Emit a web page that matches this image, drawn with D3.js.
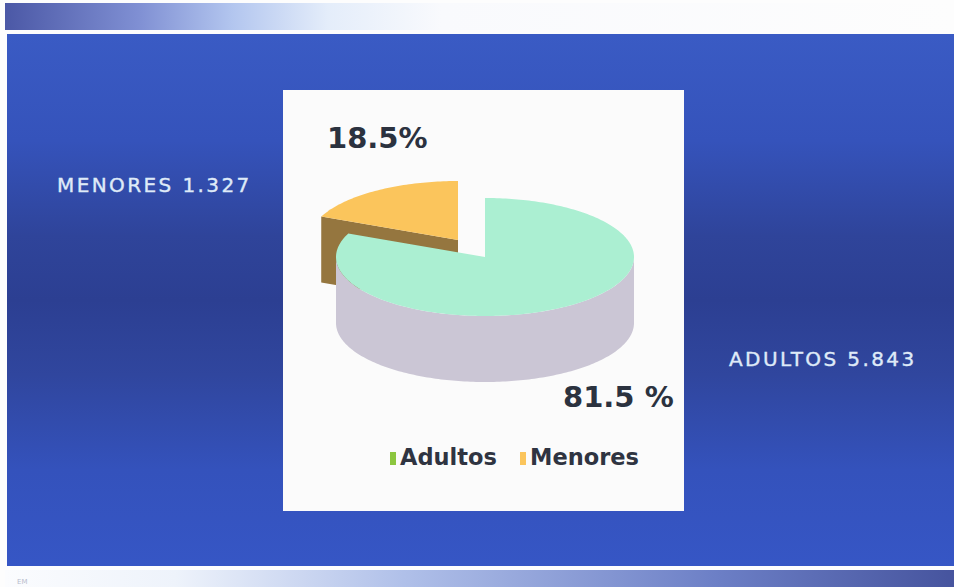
<!DOCTYPE html>
<html>
<head>
<meta charset="utf-8">
<script src="https://cdn.jsdelivr.net/npm/d3@7"></script>
<style>
  body { margin: 0; background: #fdfdfd; }
  svg { display: block; }
</style>
</head>
<body>
<div id="chart"></div>
<script>

// data
var categories = ["Adultos", "Menores"];
var values = [5843, 1327];
var pctLabels = ["81.5 %", "18.5%"];
var sideLabels = ["ADULTOS 5.843", "MENORES 1.327"];

var topColors = ["#abefd2", "#fbc55c"];
var wallColors = ["#cbc6d5", "#95763f"];
var legendColors = ["#8cc63f", "#fbc55c"];

var W = 954, H = 587;

var svg = d3.select("#chart").append("svg")
  .attr("width", W)
  .attr("height", H);

var defs = svg.append("defs");

// top bar gradient
var g1 = defs.append("linearGradient").attr("id", "topbar");
g1.append("stop").attr("offset", "0%").attr("stop-color", "#4b58a6");
g1.append("stop").attr("offset", "14%").attr("stop-color", "#7f8fd3");
g1.append("stop").attr("offset", "24%").attr("stop-color", "#b3c6ef");
g1.append("stop").attr("offset", "34%").attr("stop-color", "#e4edfa");
g1.append("stop").attr("offset", "46%").attr("stop-color", "#f9fafd");
g1.append("stop").attr("offset", "100%").attr("stop-color", "#fdfdfd");

// bottom bar gradient
var g2 = defs.append("linearGradient").attr("id", "botbar");
g2.append("stop").attr("offset", "0%").attr("stop-color", "#fbfcfe");
g2.append("stop").attr("offset", "18%").attr("stop-color", "#eef3fb");
g2.append("stop").attr("offset", "42%").attr("stop-color", "#b0c0e9");
g2.append("stop").attr("offset", "75%").attr("stop-color", "#6c7fc6");
g2.append("stop").attr("offset", "100%").attr("stop-color", "#46549e");

// panel gradient
var g3 = defs.append("linearGradient").attr("id", "panel")
  .attr("x1", 0).attr("y1", 0).attr("x2", 0).attr("y2", 1);
g3.append("stop").attr("offset", "0%").attr("stop-color", "#3a5bc4");
g3.append("stop").attr("offset", "20%").attr("stop-color", "#3553bb");
g3.append("stop").attr("offset", "38%").attr("stop-color", "#2f449a");
g3.append("stop").attr("offset", "50%").attr("stop-color", "#2c3f92");
g3.append("stop").attr("offset", "64%").attr("stop-color", "#30469e");
g3.append("stop").attr("offset", "82%").attr("stop-color", "#3452bc");
g3.append("stop").attr("offset", "100%").attr("stop-color", "#3656c5");

svg.append("rect").attr("x", 5).attr("y", 3).attr("width", W - 5).attr("height", 27)
  .attr("fill", "url(#topbar)");
svg.append("rect").attr("x", 7).attr("y", 34).attr("width", W - 7).attr("height", 532)
  .attr("fill", "url(#panel)");
svg.append("rect").attr("x", 5).attr("y", 570).attr("width", W - 5).attr("height", 17)
  .attr("fill", "url(#botbar)");
svg.append("text").attr("x", 17).attr("y", 584)
  .attr("font-family", "DejaVu Sans").attr("font-size", 7).attr("fill", "#b8bccc")
  .text("EM");

// white chart box
svg.append("rect").attr("x", 283).attr("y", 90).attr("width", 401).attr("height", 421)
  .attr("fill", "#fbfbfb");

// 3D pie
var cx = 485, cy = 257, rx = 149, ry = 59, depth = 66;
var explode = [0, 1];
var explodeOff = { x: -27, y: -17 };

var pie = d3.pie().sort(null).value(function(d) { return d; });
var arcs = pie(values);

function pt(a, dy) {
  return [rx * Math.sin(a), -ry * Math.cos(a) + (dy || 0)];
}
function arcPts(a0, a1, dy) {
  var n = Math.max(2, Math.ceil(Math.abs(a1 - a0) / 0.02));
  return d3.range(n + 1).map(function(i) { return pt(a0 + (a1 - a0) * i / n, dy); });
}
var line = d3.line();

function topPath(d) {
  return line([[0, 0]].concat(arcPts(d.startAngle, d.endAngle))) + "Z";
}
function wallPath(d) {
  var a0 = Math.max(d.startAngle, Math.PI / 2), a1 = Math.min(d.endAngle, 3 * Math.PI / 2);
  if (a1 <= a0) return null;
  return line(arcPts(a0, a1).concat(arcPts(a1, a0, depth))) + "Z";
}
function startFacePath(d) {
  var p = pt(d.startAngle);
  return line([[0, 0], p, [p[0], p[1] + depth], [0, depth]]) + "Z";
}

var slices = svg.selectAll(".slice")
  .data(arcs)
  .enter().append("g")
  .attr("class", "slice")
  .attr("transform", function(d, i) {
    return explode[i] ? "translate(" + (cx + explodeOff.x) + "," + (cy + explodeOff.y) + ")"
                      : "translate(" + cx + "," + cy + ")";
  });

// draw back slice first
slices.sort(function(a, b) { return b.index - a.index; });

slices.each(function(d, i) {
  var g = d3.select(this);
  if (d.index === 1) {
    g.append("path").attr("d", startFacePath(d)).attr("fill", wallColors[d.index]);
  }
  var w = wallPath(d);
  if (w) g.append("path").attr("d", w).attr("fill", wallColors[d.index]);
  g.append("path").attr("d", topPath(d)).attr("fill", topColors[d.index]);
});

// percent labels
var pctPos = [[563, 407], [327, 148]];
svg.selectAll(".pct")
  .data(pctLabels)
  .enter().append("text")
  .attr("class", "pct")
  .attr("x", function(d, i) { return pctPos[i][0]; })
  .attr("y", function(d, i) { return pctPos[i][1]; })
  .attr("font-family", "DejaVu Sans")
  .attr("font-weight", "bold")
  .attr("font-size", 29)
  .attr("fill", "#2b323f")
  .text(function(d) { return d; });

// legend
var legendX = [390, 520];
var legend = svg.selectAll(".legend")
  .data(categories)
  .enter().append("g")
  .attr("class", "legend")
  .attr("transform", function(d, i) { return "translate(" + legendX[i] + ",465)"; });
legend.append("rect")
  .attr("x", 0).attr("y", -13).attr("width", 6).attr("height", 13)
  .attr("fill", function(d, i) { return legendColors[i]; });
legend.append("text")
  .attr("x", 10)
  .attr("font-family", "DejaVu Sans")
  .attr("font-weight", "bold")
  .attr("font-size", 22.5)
  .attr("fill", "#2f3441")
  .text(function(d) { return d; });

// side labels
var sidePos = [[729, 366], [57, 192]];
svg.selectAll(".side")
  .data(sideLabels)
  .enter().append("text")
  .attr("class", "side")
  .attr("x", function(d, i) { return sidePos[i][0]; })
  .attr("y", function(d, i) { return sidePos[i][1]; })
  .attr("font-family", "DejaVu Sans")
  .attr("font-size", 20)
  .attr("letter-spacing", 2.4)
  .attr("fill", "#dfeaf8")
  .attr("stroke", "#dfeaf8")
  .attr("stroke-width", 0.4)
  .text(function(d) { return d; });

</script>
</body>
</html>
